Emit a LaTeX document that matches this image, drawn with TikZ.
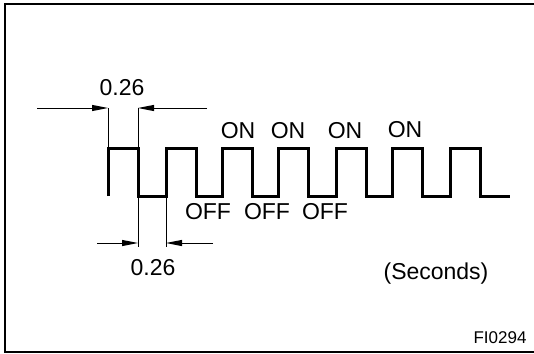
\documentclass[tikz,border=0pt]{standalone}
\usepackage{fontspec}
\setmainfont{Liberation Sans}
\usetikzlibrary{arrows.meta}

\begin{document}
\begin{tikzpicture}[x=0.5pt, y=-0.5pt, every node/.style={font=\fontsize{11.5}{13}\selectfont, inner sep=0pt}, >={Triangle[length=8pt,width=3pt]}, wave/.style={line width=1.5pt}, dim/.style={->, line width=0.5pt}, ext/.style={line width=0.4pt}, frame/.style={line width=1.4pt}]
	\useasboundingbox (0,0) rectangle (534,353);
	\draw[frame] (534,4) -- (5,4) -- (5,352) -- (534,352);
	\draw[wave, line join=miter] (108,196) \foreach \r/\f in {108/138,166/196,222/252,278/308,336/366,392/422,450/480} { -- (\r,196) -- (\r,148) -- (\f,148) -- (\f,196) } -- (510,196);
	\coordinate (topL) at (37,108);
	\coordinate (topA) at (108,108);
	\coordinate (topB) at (138,108);
	\coordinate (topR) at (207,108);
	\coordinate (hiA) at (108,148);
	\coordinate (hiB) at (138,148);
	\coordinate (loB) at (138,196);
	\coordinate (loC) at (166,196);
	\coordinate (botL) at (97,243);
	\coordinate (botB) at (138,243);
	\coordinate (botC) at (166,243);
	\coordinate (botR) at (213,243);
	\coordinate (endB) at (138,247);
	\coordinate (endC) at (166,247);
	\draw[ext] (topA) -- (hiA);
	\draw[ext] (topB) -- (hiB);
	\draw[ext] (loB) -- (endB);
	\draw[ext] (loC) -- (endC);
	\draw[dim] (topL) -- (topA);
	\draw[dim] (topR) -- (topB);
	\draw[dim] (botL) -- (botB);
	\draw[dim] (botR) -- (botC);
	\node (tTop) at (122,88) {0.26};
	\node (tBot) at (153,268) {0.26};
	\node (on1) at (238,131) {ON};
	\node (on2) at (288,131) {ON};
	\node (on3) at (345,131) {ON};
	\node (on4) at (405,130) {ON};
	\node (off1) at (208,212) {OFF};
	\node (off2) at (267,212) {OFF};
	\node (off3) at (325,212) {OFF};
	\node (unit) at (436,274) {(Seconds)};
	\node[font=\fontsize{8.5}{10}\selectfont] (code) at (500,338) {FI0294};
\end{tikzpicture}
\end{document}
